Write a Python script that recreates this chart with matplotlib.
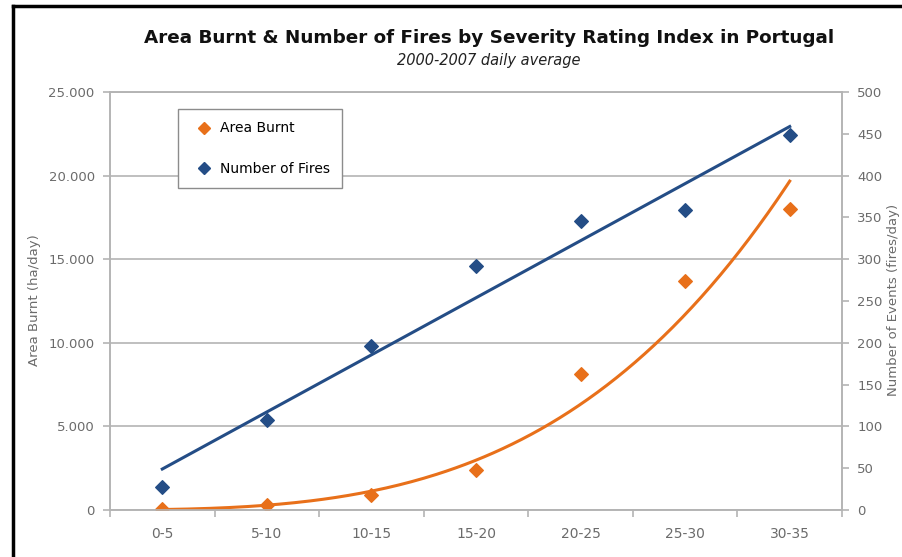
import numpy as np
import matplotlib
matplotlib.use("Agg")
import matplotlib.pyplot as plt
from matplotlib.ticker import FuncFormatter, MultipleLocator
from matplotlib.lines import Line2D

categories = ["0-5", "5-10", "10-15", "15-20", "20-25", "25-30", "30-35"]
area_burnt = [30, 300, 900, 2400, 8150, 13700, 18000]      # ha/day
n_fires = [28, 108, 196, 292, 346, 359, 448]                # fires/day

BLUE = "#244d86"
ORANGE = "#e8701a"
GREY = "#6b6b6b"
GRID = "#b4b4b4"

fig = plt.figure(figsize=(9.02, 5.57), dpi=100)
W, H = 902, 557
ax = fig.add_axes([110 / W, (H - 510) / H, 732 / W, 418 / H])
ax2 = ax.twinx()

xi = np.arange(1, len(categories) + 1)
xpos = xi - 0.5

# trendlines like the spreadsheet: linear for fires, power for area
k, b = np.polyfit(xi, n_fires, 1)
pk, pb = np.polyfit(np.log(xi), np.log(area_burnt), 1)
xs = np.linspace(1, 7, 200)
ax.plot(xs - 0.5, np.exp(pb) * xs ** pk, color=ORANGE, lw=2.2, zorder=3)
ax2.plot(xs - 0.5, b + k * xs, color=BLUE, lw=2.2, zorder=3)

ax.scatter(xpos, area_burnt, marker="D", s=48, color=ORANGE, zorder=4)
ax2.scatter(xpos, n_fires, marker="D", s=48, color=BLUE, zorder=4)

ax.set_xlim(0, 7)
ax.set_ylim(0, 25000)
ax2.set_ylim(0, 500)
ax.yaxis.set_major_locator(MultipleLocator(5000))
ax.yaxis.set_major_formatter(FuncFormatter(lambda v, p: f"{int(v):,}".replace(",", ".")))
ax2.yaxis.set_major_locator(MultipleLocator(50))
ax.grid(axis="y", color=GRID, lw=1.2)
ax.set_axisbelow(True)

ax.set_xticks(np.arange(0, 8))
ax.set_xticklabels([])
ax.set_xticks(xpos, minor=True)
ax.set_xticklabels(categories, minor=True)
ax.tick_params(axis="x", which="minor", length=0, pad=12, labelsize=10, labelcolor=GREY)
ax.tick_params(axis="x", which="major", length=5, color=GRID, width=1.2)
ax.tick_params(axis="y", length=5, color=GRID, width=1.2, labelsize=9.5, labelcolor=GREY, pad=6)
ax2.tick_params(axis="y", length=5, color=GRID, width=1.2, labelsize=9.5, labelcolor=GREY, pad=6)

for a in (ax, ax2):
    for s in ("left", "right", "bottom", "top"):
        a.spines[s].set_color(GRID)
        a.spines[s].set_linewidth(1.2)

fig.text(35 / W, 1 - 300 / H, "Area Burnt (ha/day)", rotation=90, ha="center", va="center",
         fontsize=9.5, color=GREY)
fig.text(893 / W, 1 - 300 / H, "Number of Events (fires/day)", rotation=90, ha="center", va="center",
         fontsize=9.5, color=GREY)

fig.text(489 / W, 1 - 38 / H, "Area Burnt & Number of Fires by Severity Rating Index in Portugal",
         ha="center", va="center", fontsize=13.2, fontweight="bold", color="#111111")
fig.text(489 / W, 1 - 61 / H, "2000-2007 daily average", ha="center", va="center",
         fontsize=10.5, style="italic", color="#222222")

handles = [Line2D([], [], ls="", marker="D", ms=6, color=ORANGE, label="Area Burnt"),
           Line2D([], [], ls="", marker="D", ms=6, color=BLUE, label="Number of Fires")]
leg = ax.legend(handles=handles, loc="upper left", bbox_to_anchor=(178 / W, 1 - 109 / H),
                bbox_transform=fig.transFigure, borderaxespad=0, fancybox=False, framealpha=1,
                edgecolor="#8c8c8c", handletextpad=0.1, labelspacing=1.9,
                borderpad=0.9, handlelength=2.0, fontsize=10)
leg.get_frame().set_linewidth(1.0)
leg.set_zorder(10)

# black frame lines at left and top of the picture
fig.add_artist(Line2D([13 / W, 13 / W], [0, 1 - 6 / H], color="black", lw=2.5))
fig.add_artist(Line2D([13 / W, 1], [1 - 6 / H, 1 - 6 / H], color="black", lw=2.5))

fig.savefig("out.png", dpi=100)
